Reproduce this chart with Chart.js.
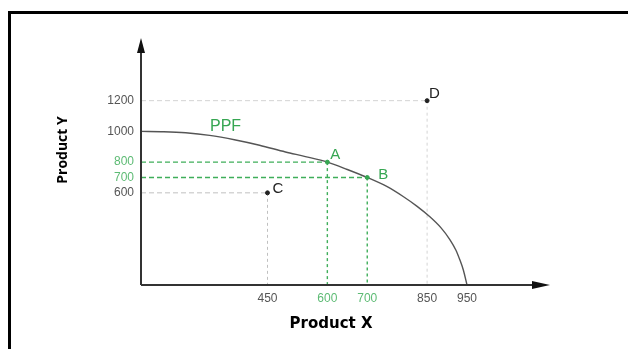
<!DOCTYPE html>
<html>
<head>
<meta charset="utf-8">
<script src="https://cdn.jsdelivr.net/npm/chart.js@4.4.1/dist/chart.umd.min.js"></script>
<style>
  html, body { margin: 0; padding: 0; background: #fff; }
  #wrap { position: relative; width: 628px; height: 349px; overflow: hidden; }
  #frame { position: absolute; left: 8px; top: 11px; width: 700px; height: 400px;
           border-top: 3px solid #000; border-left: 3px solid #000; }
  canvas { position: absolute; left: 0; top: 0; }
</style>
</head>
<body>
<div id="wrap">
  <div id="frame"></div>
  <canvas id="ppf" width="628" height="349"></canvas>
</div>
<script>
// axis ranges (where the arrows end)
const xMin = 133, xMax = 1158;
const yMin = 0, yMax = 1608;

// tick labels shown on each axis
const xTicks = [450, 600, 700, 850, 950];
const yTicks = [600, 700, 800, 1000, 1200];
const greenTicksX = [600, 700];
const greenTicksY = [700, 800];

// PPF curve
const curveX = [133, 190, 245, 305, 370, 430, 495, 545, 600, 650, 700, 750, 790, 825, 857, 885, 907, 922, 932, 941, 950];
const curveY = [1000, 998, 991, 974, 944, 910, 866, 836, 800, 752, 700, 640, 576, 512, 444, 372, 296, 228, 164, 96, 0];

// labelled points
const pointNames = ['A', 'B', 'C', 'D'];
const pointX = [600, 700, 450, 850];
const pointY = [800, 700, 600, 1200];

const GREEN = '#36a652';
const GREEN_LIGHT = '#5dbb74';
const pointColors = [GREEN, GREEN, '#222', '#222'];
const guideColors = ['#3fae5a', '#3fae5a', '#c0c0c0', '#d4d4d4'];
const guideWidths = [1.4, 1.4, 1, 1];
const labelOffsets = [[3, -3], [11, 2], [5, 0], [2, -3]];

// dashed line from the y axis to the point, dotted line down to the x axis
function guides(i) {
  const base = {type: 'line', borderColor: guideColors[i], borderWidth: guideWidths[i], pointRadius: 0, order: 3};
  return [
    Object.assign({}, base, {data: [{x: xMin, y: pointY[i]}, {x: pointX[i], y: pointY[i]}], borderDash: [5, 3]}),
    Object.assign({}, base, {data: [{x: pointX[i], y: pointY[i]}, {x: pointX[i], y: 0}], borderDash: [3, 3]})
  ];
}

const datasets = [
  {
    type: 'scatter',
    data: pointX.map((x, i) => ({x: x, y: pointY[i]})),
    backgroundColor: pointColors,
    borderColor: pointColors,
    pointRadius: 2,
    order: 1
  },
  {
    type: 'line',
    data: curveX.map((x, i) => ({x: x, y: curveY[i]})),
    borderColor: '#555',
    borderWidth: 1.4,
    pointRadius: 0,
    cubicInterpolationMode: 'monotone',
    order: 2
  }
].concat(guides(0), guides(1), guides(2), guides(3));

// axes with arrow heads, letters, PPF label and axis titles
const extras = {
  id: 'extras',
  afterDatasetsDraw(chart) {
    const ctx = chart.ctx, a = chart.chartArea;
    const sx = chart.scales.x, sy = chart.scales.y;
    ctx.save();
    ctx.strokeStyle = '#333';
    ctx.fillStyle = '#111';
    ctx.lineWidth = 2;
    ctx.beginPath();
    ctx.moveTo(a.left, a.bottom); ctx.lineTo(a.left, a.top + 10);
    ctx.moveTo(a.left, a.bottom); ctx.lineTo(a.right - 10, a.bottom);
    ctx.stroke();
    // arrow heads
    ctx.beginPath();
    ctx.moveTo(a.left, a.top); ctx.lineTo(a.left - 4, a.top + 15); ctx.lineTo(a.left + 4, a.top + 15);
    ctx.closePath(); ctx.fill();
    ctx.beginPath();
    ctx.moveTo(a.right, a.bottom); ctx.lineTo(a.right - 18, a.bottom - 4); ctx.lineTo(a.right - 18, a.bottom + 4);
    ctx.closePath(); ctx.fill();

    // point letters
    ctx.font = '15px "Liberation Sans", Arial, sans-serif';
    ctx.textAlign = 'left';
    ctx.textBaseline = 'alphabetic';
    const meta = chart.getDatasetMeta(0);
    meta.data.forEach((el, i) => {
      ctx.fillStyle = i < 2 ? GREEN : '#222';
      ctx.fillText(pointNames[i], el.x + labelOffsets[i][0], el.y + labelOffsets[i][1]);
    });

    // PPF label
    ctx.fillStyle = GREEN;
    ctx.font = '16px "Liberation Sans", Arial, sans-serif';
    ctx.fillText('PPF', sx.getPixelForValue(306), sy.getPixelForValue(1003));

    // axis titles
    ctx.fillStyle = '#000';
    ctx.font = 'bold 15px "DejaVu Sans", sans-serif';
    ctx.textAlign = 'center';
    ctx.textBaseline = 'middle';
    ctx.fillText('Product X', 331, 324);
    ctx.translate(63, 150);
    ctx.rotate(-Math.PI / 2);
    ctx.font = 'bold 14px "Open Sans", sans-serif';
    ctx.fillText('Product Y', 0, 0);
    ctx.restore();
  }
};

const tickFont = {family: '"Liberation Sans", Arial, sans-serif', size: 12};

new Chart(document.getElementById('ppf'), {
  data: {datasets: datasets},
  options: {
    responsive: false,
    animation: false,
    layout: {padding: {left: 10, top: 38, right: 78, bottom: 0}},
    plugins: {legend: {display: false}, tooltip: {enabled: false}},
    scales: {
      x: {
        type: 'linear', min: xMin, max: xMax,
        grid: {display: false, drawTicks: false},
        border: {display: false},
        afterBuildTicks: s => { s.ticks = xTicks.map(v => ({value: v})); },
        afterFit: s => { s.height = 64; },
        ticks: {
          padding: 6, font: tickFont, maxRotation: 0, autoSkip: false,
          callback: v => String(v),
          color: c => greenTicksX.includes(c.tick.value) ? GREEN_LIGHT : '#555'
        }
      },
      y: {
        type: 'linear', min: yMin, max: yMax,
        grid: {display: false, drawTicks: false},
        border: {display: false},
        afterBuildTicks: s => { s.ticks = yTicks.map(v => ({value: v})); },
        afterFit: s => { s.width = 131; },
        ticks: {
          padding: 7, font: tickFont, autoSkip: false,
          callback: v => String(v),
          color: c => greenTicksY.includes(c.tick.value) ? GREEN_LIGHT : '#555'
        }
      }
    }
  },
  plugins: [extras]
});
</script>
</body>
</html>
